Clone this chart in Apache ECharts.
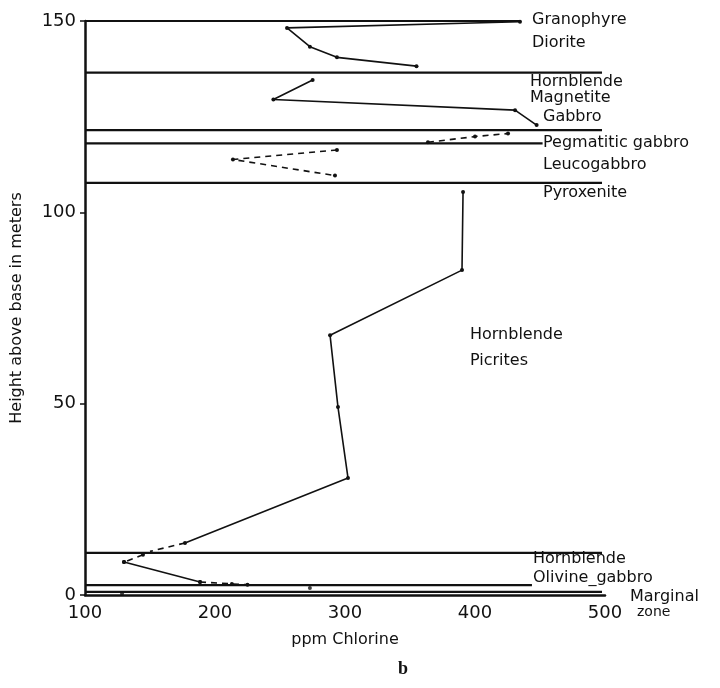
<!DOCTYPE html>
<html><head><meta charset="utf-8">
<script src="https://cdn.jsdelivr.net/npm/echarts@6/dist/echarts.min.js"></script>
<style>html,body{margin:0;padding:0;background:#fff}#c{width:720px;height:688px}</style>
</head><body><div id="c"></div>
<script>
// ---- data (ppm chlorine, height in m) ----
const xTicks = [100, 200, 300, 400, 500];
const yTicks = [0, 50, 100, 150];
const granophyreDiorite = [[434.6,149.8],[255.4,148.2],[273,143.3],[293.8,140.5],[355,138.2]];
const hornblendeMagnetiteGabbro = [[275.1,134.6],[244.9,129.5],[430.8,126.7],[447.4,122.8]];
const pegmatiticGabbro = [[363.8,118.3],[400,119.8],[425.4,120.6]];
const leucogabbro = [[293.8,116.3],[213.8,113.8],[292.3,109.6]];
const picrites = [[390.8,105.3],[390,84.9],[288.5,67.9],[294.6,49.1],[302.3,30.6],[176.9,13.6]];
const picritesTail = [[176.9,13.6],[150,11.4]];
const olivineTop = [[144.6,10.5],[130,8.6]];
const olivineGabbro = [[130,8.6],[188.5,3.4]];
const olivineTail = [[188.5,3.4],[213,2.9],[225,2.7]];
const marginalZone = [[273,1.8],[128.5,0.3]];
// contact (boundary) heights and their right ends
const contactHeights = [150, 136.5, 121.5, 118.0, 107.7, 11.0, 2.6, 0.8];
const contactEnds    = [434.6, 497.7, 497.7, 452, 497.7, 497.7, 443.8, 497.7];
const unitNames = ['Granophyre','Diorite','Hornblende','Magnetite','Gabbro','Pegmatitic gabbro','Leucogabbro','Pyroxenite','Hornblende','Picrites','Hornblende','Olivine_gabbro','Marginal','zone'];
const xTitle = 'ppm Chlorine';
const yTitle = 'Height above base in meters';
const panelLetter = 'b';

const chart = echarts.init(document.getElementById('c'), null, {renderer:'canvas'});
const FONT = 'DejaVu Sans';
const black = '#111';

const series = [];
contactHeights.forEach((h,i)=>{
  series.push({type:'line', data:[[100,h],[contactEnds[i],h]], symbol:'none', silent:true,
    lineStyle:{color:black, width: (i===0?2:2.2)}, z:1, clip:false});
});
function dataLine(d, dashed, showSym){
  series.push({type:'line', data:d, symbol: showSym===false?'none':'circle', symbolSize:4,
    itemStyle:{color:black}, lineStyle:{color:black, width:1.6, type: dashed?[6,5]:'solid'}, z:3, clip:false});
}
dataLine(granophyreDiorite,false);
dataLine(hornblendeMagnetiteGabbro,false);
dataLine(pegmatiticGabbro,true);
dataLine(leucogabbro,true);
dataLine(picrites,false);
dataLine(picritesTail,true,false);
dataLine(olivineTop,true);
dataLine(olivineGabbro,false);
dataLine(olivineTail,true);
series.push({type:'scatter', data:marginalZone, symbolSize:4, itemStyle:{color:black}, z:3});

const lbl = (text,x,y,extra)=>Object.assign({type:'text', left:x, top:y,
  style:{text, font:'16px "'+FONT+'"', fill:black, textVerticalAlign:'middle'}}, extra||{});

chart.setOption({
  animation:false,
  backgroundColor:'#fff',
  grid:{left:85, right:115, top:21, bottom:93, containLabel:false},
  xAxis:{type:'value', min:xTicks[0], max:xTicks[xTicks.length-1], interval:100,
    name:xTitle, nameLocation:'middle', nameGap:37,
    nameTextStyle:{fontFamily:FONT, fontSize:16, color:black},
    axisLine:{show:true, onZero:false, lineStyle:{color:black, width:2.5}},
    axisTick:{show:false}, splitLine:{show:false},
    axisLabel:{fontFamily:FONT, fontSize:18, color:black, margin:9}},
  yAxis:{type:'value', min:yTicks[0], max:yTicks[yTicks.length-1], interval:50,
    name:yTitle, nameLocation:'middle', nameGap:60, nameRotate:90,
    nameTextStyle:{fontFamily:FONT, fontSize:16, color:black},
    axisLine:{show:true, onZero:false, lineStyle:{color:black, width:2.5}},
    axisTick:{show:true, length:5, lineStyle:{color:black, width:1.5}}, splitLine:{show:false},
    axisLabel:{fontFamily:FONT, fontSize:18, color:black, margin:9}},
  series,
  graphic:[
    lbl(unitNames[0],532,12),
    lbl(unitNames[1],532,35),
    lbl(unitNames[2],530,74),
    lbl(unitNames[3],530,90),
    lbl(unitNames[4],543,109),
    lbl(unitNames[5],543,135),
    lbl(unitNames[6],543,157),
    lbl(unitNames[7],543,185),
    lbl(unitNames[8],470,327),
    lbl(unitNames[9],470,353),
    lbl(unitNames[10],533,551),
    lbl(unitNames[11],533,570),
    lbl(unitNames[12],630,589),
    lbl(unitNames[13],637,605, {style:{text:unitNames[13], font:'14px "'+FONT+'"', fill:black}}),
    {type:'text', left:398, top:660, style:{text:panelLetter, font:'bold 18px "Liberation Serif"', fill:black}}
  ]
});
</script></body></html>
